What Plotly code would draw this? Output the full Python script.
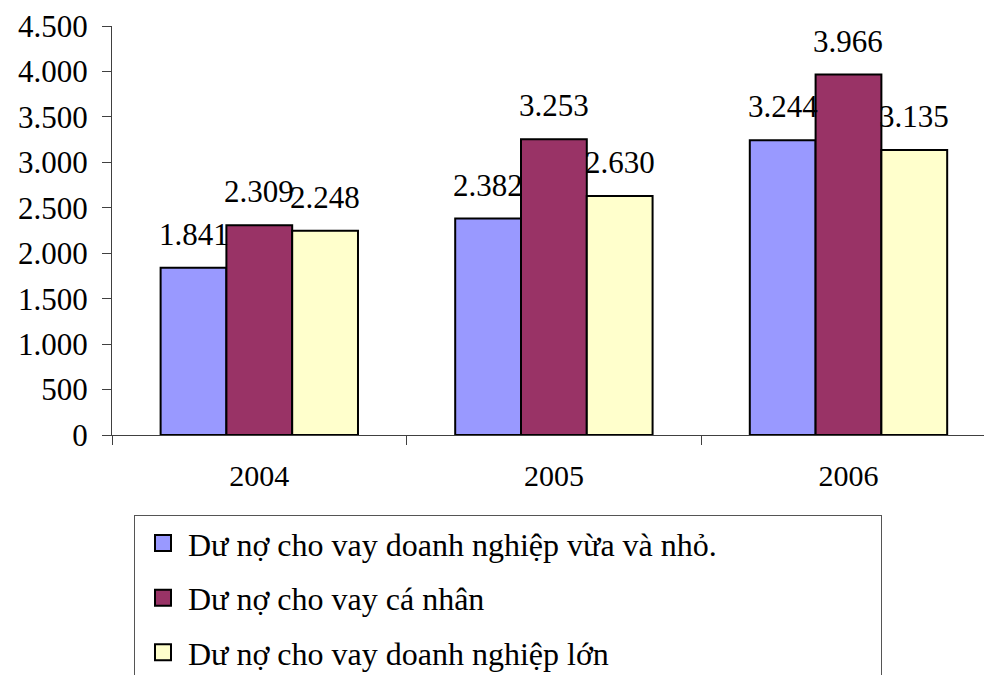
import plotly.graph_objects as go

# Outstanding loans by customer group, 2004-2006
years = ["2004", "2005", "2006"]
series_names = [
    "Dư nợ cho vay doanh nghiệp vừa và nhỏ.",
    "Dư nợ cho vay cá nhân",
    "Dư nợ cho vay doanh nghiệp lớn",
]
sme_loans = [1841, 2382, 3244]
personal_loans = [2309, 3253, 3966]
large_loans = [2248, 2630, 3135]
y_ticks = [0, 500, 1000, 1500, 2000, 2500, 3000, 3500, 4000, 4500]

series_values = [sme_loans, personal_loans, large_loans]
colors = ["#9999FF", "#993366", "#FFFFCC"]

FONT = "Times New Roman, Liberation Serif, DejaVu Serif, serif"
BAR_GAP = 0.33

fig = go.Figure()

for name, vals, col in zip(series_names, series_values, colors):
    fig.add_trace(go.Bar(
        x=years, y=vals, name=name, legendgroup=name, showlegend=False,
        marker=dict(color=col, line=dict(color="black", width=2)),
        hoverinfo="x+y+name",
    ))
    # larger square swatch for the legend entry
    fig.add_trace(go.Scatter(
        x=[None], y=[None], mode="markers", name=name, legendgroup=name,
        marker=dict(symbol="square", size=16, color=col,
                    line=dict(color="black", width=2)),
    ))

# value labels above each bar, centred on the bar within its group
n = len(series_values)
bar_w = (1 - BAR_GAP) / n
for i, vals in enumerate(series_values):
    for j, v in enumerate(vals):
        fig.add_annotation(
            x=j + (i - (n - 1) / 2) * bar_w, y=v, xref="x", yref="y",
            text=f"{v:,}".replace(",", "."), showarrow=False,
            yanchor="bottom", yshift=14,
            font=dict(family=FONT, size=31, color="black"),
        )

fig.update_layout(
    width=984, height=675,
    margin=dict(l=112, r=0, t=26, b=240, autoexpand=False),
    paper_bgcolor="white", plot_bgcolor="white",
    barmode="group", bargap=BAR_GAP, bargroupgap=0,
    separators=",.",
    font=dict(family=FONT, color="black"),
    legend=dict(
        orientation="h",
        x=0.0252, y=-0.195, xanchor="left", yanchor="top",
        bgcolor="white", bordercolor="#555555", borderwidth=1,
        font=dict(family=FONT, size=32, color="black"),
        itemwidth=40, indentation=4,
        entrywidth=688, entrywidthmode="pixels",
    ),
    showlegend=True,
)

fig.update_xaxes(
    type="category", range=[-0.5, 2.46],
    showline=True, linecolor="#404040", linewidth=1,
    ticks="outside", tickson="boundaries", ticklen=9, tickcolor="#404040",
    tickfont=dict(family=FONT, size=30, color="black"),
    ticklabelstandoff=14,
    showgrid=False, zeroline=False,
)
fig.update_yaxes(
    range=[0, 4500], tickvals=y_ticks, tickformat=",d",
    showline=True, linecolor="#404040", linewidth=1,
    ticks="outside", ticklen=9, tickcolor="#404040",
    tickfont=dict(family=FONT, size=31, color="black"),
    ticklabelstandoff=8,
    showgrid=False, zeroline=False,
)

fig.write_html("out.html")
